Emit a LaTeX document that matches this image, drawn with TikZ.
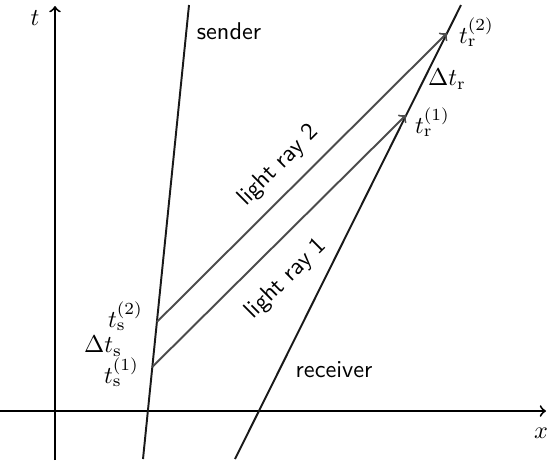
\documentclass[tikz,border=0pt]{standalone}
\begin{document}
\begin{tikzpicture}[x=0.0145cm,y=-0.0145cm,thick]
\tikzset{ray/.style={draw=black!70,->}, world/.style={draw=black!90}}
\useasboundingbox (0,0) rectangle (547,460);

% axes
\coordinate (xl) at (0,411);
\coordinate (xr) at (546,411);
\coordinate (tb) at (55,460);
\coordinate (tt) at (55,6);
\draw[->] (xl) -- (xr);
\draw[->] (tb) -- (tt);
\node (xlab) at (541,433) {$x$};
\node (tlab) at (35,18) {$t$};

% world lines
\coordinate (sb) at (143,459);
\coordinate (st) at (189,5);
\coordinate (rb) at (235,459);
\coordinate (rt) at (461,5);
\draw[world] (sb) -- (st);
\draw[world] (rb) -- (rt);
\node (sender) at (229,31) {\sffamily sender};
\node (receiver) at (334,370) {\sffamily receiver};

% emission and reception events
\coordinate (s1) at (152.2,367);
\coordinate (s2) at (156.8,322);
\coordinate (r1) at (406.1,115);
\coordinate (r2) at (447,33);

\draw[ray] (s1) -- node[pos=0.44,below=5pt,sloped] {\sffamily light ray 1} (r1);
\draw[ray] (s2) -- node[pos=0.48,above=2pt,sloped] {\sffamily light ray 2} (r2);

\node[anchor=east] (ts2) at (152,316) {$t_\mathrm{s}^{(2)}$};
\node (dts) at (103,346) {$\Delta t_\mathrm{s}$};
\node[anchor=east] (ts1) at (148,372) {$t_\mathrm{s}^{(1)}$};
\node[anchor=west] (tr2) at (450,32) {$t_\mathrm{r}^{(2)}$};
\node (dtr) at (447,79) {$\Delta t_\mathrm{r}$};
\node[anchor=west] (tr1) at (406,122) {$t_\mathrm{r}^{(1)}$};
\end{tikzpicture}
\end{document}
